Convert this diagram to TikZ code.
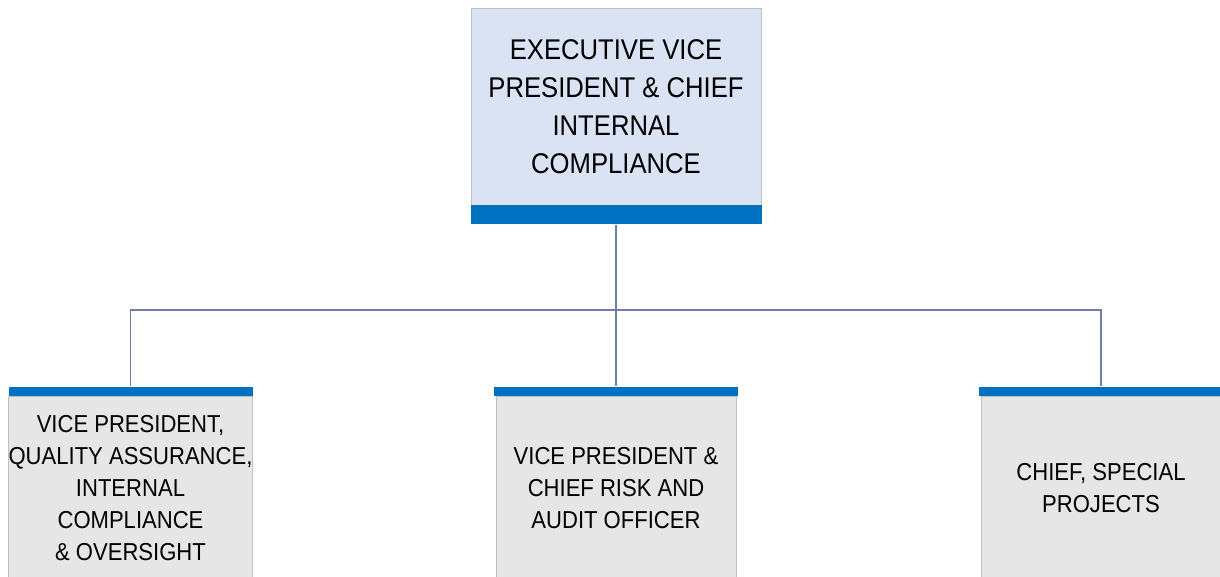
\documentclass[tikz,border=0pt]{standalone}
\usepackage{fontspec}
\newfontfamily\chartfont{Liberation Sans}[FakeStretch=0.9]
\usetikzlibrary{positioning}
\definecolor{paleblue}{HTML}{DAE3F3}
\definecolor{palegray}{HTML}{E7E6E6}
\definecolor{barblue}{HTML}{0070C0}
\definecolor{edgegray}{HTML}{BFBFBF}
\definecolor{linkblue}{HTML}{6F7FA6}
\tikzset{
  headbox/.style={draw=edgegray, fill=paleblue, minimum width=290pt, minimum height=197pt,
    inner sep=0pt, align=center, text=black, font=\chartfont\fontsize{28.5}{38}\selectfont},
  unitbox/.style={draw=edgegray, fill=palegray, minimum width=240pt, minimum height=184pt,
    inner sep=0pt, align=center, text=black, font=\chartfont\fontsize{24.5}{32}\selectfont},
  bar/.style={fill=barblue, minimum height=#1, inner sep=0pt},
  link/.style={draw=linkblue, line width=1.2pt}
}

\begin{document}
\begin{tikzpicture}[x=1pt,y=-1pt]
  \useasboundingbox (0,0) rectangle (1220,577);
  \clip (0,0) rectangle (1220,577);
  \node[headbox] (evp) at (616,106.5) {EXECUTIVE VICE\\PRESIDENT \& CHIEF\\INTERNAL\\COMPLIANCE};
  \node[bar=19pt,minimum width=291pt,anchor=north] (evpbar) at (evp.south) {};
  \node[unitbox] (qa) at (130.5,488) {VICE PRESIDENT,\\QUALITY ASSURANCE,\\INTERNAL\\COMPLIANCE\\\& OVERSIGHT};
  \node[bar=9pt,minimum width=244pt,anchor=south] (qabar) at (qa.north) {};
  \node[unitbox] (ra) at (616,488) {VICE PRESIDENT \&\\CHIEF RISK AND\\AUDIT OFFICER};
  \node[bar=9pt,minimum width=244pt,anchor=south] (rabar) at (ra.north) {};
  \node[unitbox] (sp) at (1101,488) {CHIEF, SPECIAL\\PROJECTS};
  \node[bar=9pt,minimum width=244pt,anchor=south] (spbar) at (sp.north) {};
  \coordinate (hub) at (616,310);
  \draw[link] (evpbar.south) -- (hub);
  \draw[link] (qabar.north) |- (hub) -| (spbar.north);
  \draw[link] (hub) -- (rabar.north);
\end{tikzpicture}
\end{document}
